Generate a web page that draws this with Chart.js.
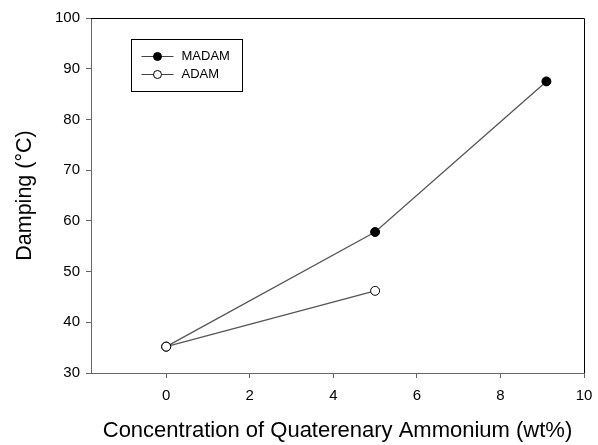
<!DOCTYPE html>
<html>
<head>
<meta charset="utf-8">
<script src="https://cdn.jsdelivr.net/npm/chart.js@4/dist/chart.umd.min.js"></script>
<style>
  html, body { margin: 0; padding: 0; background: #fff; }
  #wrap { width: 598px; height: 445px; }
</style>
</head>
<body>
<div id="wrap"><canvas id="chart" width="598" height="445"></canvas></div>
<script>
// values
const seriesNames = ['MADAM', 'ADAM'];
const madamX = [0, 5, 9.1];
const madamY = [35.2, 57.8, 87.5];
const adamX = [0, 5];
const adamY = [35.2, 46.2];
const xTicks = [0, 2, 4, 6, 8, 10];
const yTicks = [30, 40, 50, 60, 70, 80, 90, 100];

const FONT = '"Liberation Sans", Arial, sans-serif';
const toPoints = (xs, ys) => xs.map((x, i) => ({ x: x, y: ys[i] }));

// frame on top/right + legend box inside the plot
const frameAndLegend = {
    id: 'frameAndLegend',
    afterDatasetsDraw(chart) {
        const ctx = chart.ctx;
        const a = chart.chartArea;
        ctx.save();
        ctx.strokeStyle = '#000';
        ctx.lineWidth = 1;
        ctx.beginPath();
        ctx.moveTo(a.left, a.top + 0.5);
        ctx.lineTo(a.right + 0.5, a.top + 0.5);
        ctx.lineTo(a.right + 0.5, a.bottom);
        ctx.stroke();

        // legend
        const bx = 131.5, by = 39.5, bw = 111, bh = 52;
        ctx.strokeRect(bx, by, bw, bh);
        ctx.font = '13px ' + FONT;
        ctx.textBaseline = 'middle';
        chart.data.datasets.forEach((ds, i) => {
            const y = by + 17 + i * 18;
            ctx.strokeStyle = '#444';
            ctx.beginPath();
            ctx.moveTo(bx + 10, y);
            ctx.lineTo(bx + 42, y);
            ctx.stroke();
            ctx.beginPath();
            ctx.arc(bx + 26, y, 4, 0, Math.PI * 2);
            ctx.fillStyle = ds.pointBackgroundColor;
            ctx.fill();
            ctx.strokeStyle = '#000';
            ctx.stroke();
            ctx.fillStyle = '#000';
            ctx.fillText(ds.label, bx + 50, y);
        });
        ctx.restore();
    }
};

const ctx = document.getElementById('chart').getContext('2d');
new Chart(ctx, {
    type: 'scatter',
    data: {
        datasets: [
            {
                label: seriesNames[0],
                data: toPoints(madamX, madamY),
                order: 2,
                showLine: true,
                borderColor: '#555',
                borderWidth: 1.3,
                pointRadius: 4.5,
                pointBackgroundColor: '#000',
                pointBorderColor: '#000',
                pointBorderWidth: 1
            },
            {
                label: seriesNames[1],
                data: toPoints(adamX, adamY),
                order: 1,
                showLine: true,
                borderColor: '#555',
                borderWidth: 1.3,
                pointRadius: 4.5,
                pointBackgroundColor: '#fff',
                pointBorderColor: '#000',
                pointBorderWidth: 1
            }
        ]
    },
    options: {
        responsive: false,
        animation: false,
        layout: { padding: { left: 0, top: 18, right: 14, bottom: 0 } },
        plugins: {
            legend: { display: false },
            tooltip: { enabled: false }
        },
        scales: {
            x: {
                type: 'linear',
                min: -1.8,
                max: 10,
                afterBuildTicks: axis => { axis.ticks = xTicks.map(v => ({ value: v })); },
                afterFit: axis => { axis.height = 72; axis.paddingRight = 14; },
                ticks: {
                    color: '#000',
                    font: { family: FONT, size: 15 },
                    padding: 9
                },
                grid: { drawOnChartArea: false, color: '#666', tickLength: 5 },
                border: { color: '#666', width: 1 },
                title: {
                    display: true,
                    text: 'Concentration of Quaterenary Ammonium (wt%)',
                    color: '#000',
                    font: { family: FONT, size: 22, lineHeight: 1 },
                    padding: { top: 0, bottom: 3 }
                }
            },
            y: {
                type: 'linear',
                min: 30,
                max: 100,
                afterBuildTicks: axis => { axis.ticks = yTicks.map(v => ({ value: v })); },
                afterFit: axis => { axis.width = 91; },
                ticks: {
                    color: '#000',
                    font: { family: FONT, size: 15 },
                    padding: 6
                },
                grid: { drawOnChartArea: false, color: '#666', tickLength: 5 },
                border: { color: '#666', width: 1 },
                title: {
                    display: true,
                    text: 'Damping (°C)',
                    color: '#000',
                    font: { family: FONT, size: 21.5, lineHeight: 1 },
                    padding: { top: 14, bottom: 0 }
                }
            }
        }
    },
    plugins: [frameAndLegend]
});
</script>
</body>
</html>
